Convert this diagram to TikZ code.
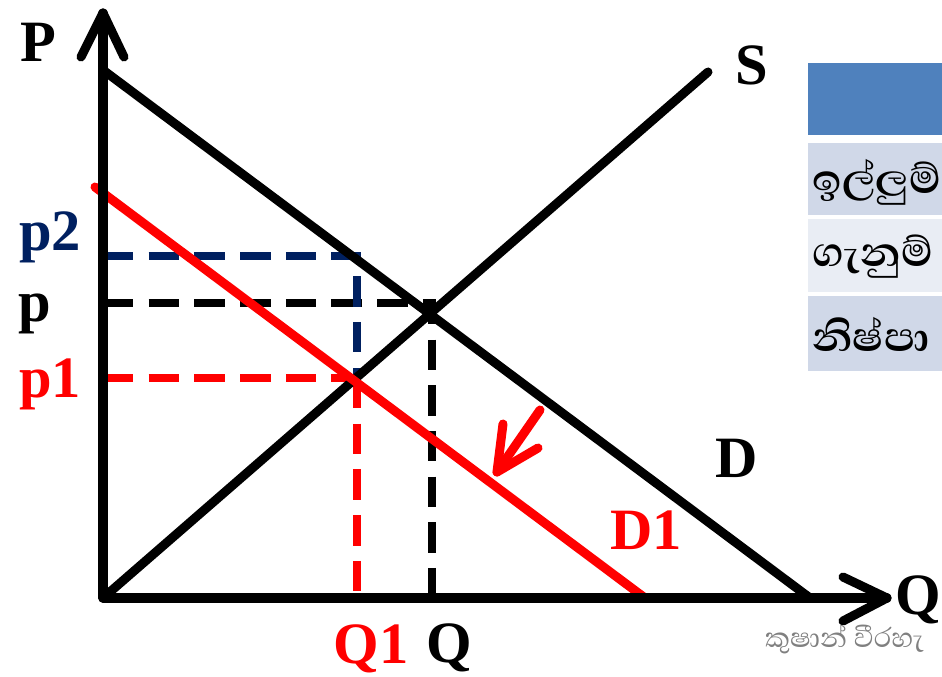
\documentclass[tikz,border=0pt]{standalone}
\usepackage{fontspec}
\setmainfont{Liberation Serif}
\newfontfamily\sinfont[Script=Sinhala]{Abhaya Libre}
\definecolor{navyc}{HTML}{002060}
\definecolor{hdrblue}{HTML}{4F81BD}
\definecolor{rowa}{HTML}{D0D8E8}
\definecolor{rowb}{HTML}{E9EDF4}
\tikzset{
  thick line/.style={line width=7.7pt, line cap=round, line join=round},
  dash line/.style={line width=6.5pt, dash pattern=on 26pt off 13pt},
  lbl/.style={font=\fontsize{50}{50}\selectfont\bfseries, inner sep=0pt},
  rowtxt/.style={font=\sinfont\fontsize{45}{45}\selectfont\bfseries, inner sep=0pt, anchor=west},
}
\begin{document}
\begin{tikzpicture}[x=0.03cm,y=-0.03cm]
\useasboundingbox (0,0) rectangle (942,677);
\clip (0,0) rectangle (942,677);
% coordinates
\coordinate (o) at (103,598);
\coordinate (ytip) at (103,13);
\coordinate (yl) at (81,57);
\coordinate (yr) at (124,57);
\coordinate (xtip) at (887,598);
\coordinate (xu) at (843,577);
\coordinate (xd) at (843,621);
\coordinate (dA) at (103,70);
\coordinate (dB) at (810,598);
\coordinate (sB) at (708,72);
\coordinate (d1A) at (95,187);
\coordinate (d1B) at (645,598);
\coordinate (e1) at (357,378);
\coordinate (pY) at (103,303);
\coordinate (p2Y) at (103,256);
\coordinate (p1Y) at (103,378);
\coordinate (p2C) at (357,256);
\coordinate (pC) at (432,303);
\coordinate (qX) at (432,598);
\coordinate (q1X) at (357,598);
\coordinate (arS) at (540,410);
\coordinate (arT) at (497,472);
\coordinate (arL) at (503,424);
\coordinate (arR) at (538,448);
% table
\fill[hdrblue] (808,63) rectangle (942,135);
\fill[rowa] (808,143) rectangle (942,215);
\fill[rowb] (808,219) rectangle (942,292);
\fill[rowa] (808,296) rectangle (942,371);
\node[rowtxt] (r1) at (812,182) {ඉල්ලුම්};
\node[rowtxt] (r2) at (812,257) {ගැනුම්};
\node[rowtxt] (r3) at (812,334) {නිෂ්පා};
% dashed lines
\draw[dash line, black] (pY) -- (pC) -- (qX);
\draw[dash line, navyc] (p2Y) -- (p2C) -- (e1);
\draw[dash line, red] (p1Y) -- (e1);
\draw[dash line, red] (e1) -- (q1X);
% curves
\draw[thick line] (dA) -- (dB);
\draw[thick line] (o) -- (sB);
\draw[thick line, red] (d1A) -- (d1B);
% axes
\draw[thick line] (o) -- (ytip);
\draw[thick line] (yl) -- (ytip) -- (yr);
\draw[thick line] (o) -- (xtip);
\draw[thick line] (xu) -- (xtip) -- (xd);
% shift arrow
\draw[thick line, red] (arS) -- (arT);
\draw[thick line, red] (arL) -- (arT) -- (arR);
% labels
\node[lbl] (lP) at (38,42) {P};
\node[lbl] (lS) at (752,65) {S};
\node[lbl] (lD) at (737,458) {D};
\node[lbl, text=red] (lD1) at (646,530) {D1};
\node[lbl] (lQ) at (918,600) {Q};
\node[lbl, text=red] (lQ1) at (371,649) {Q1};
\node[lbl] (lQe) at (449,648) {Q};
\node[lbl, text=navyc] (lp2) at (50,237) {p2};
\node[lbl] (lp) at (35,314) {p};
\node[lbl, text=red] (lp1) at (50,384) {p1};
\node[font=\sinfont\fontsize{30}{30}\selectfont, text=gray, anchor=west, inner sep=0pt] (wm) at (765,639) {කුෂාන් වීරහැ};
\end{tikzpicture}
\end{document}
